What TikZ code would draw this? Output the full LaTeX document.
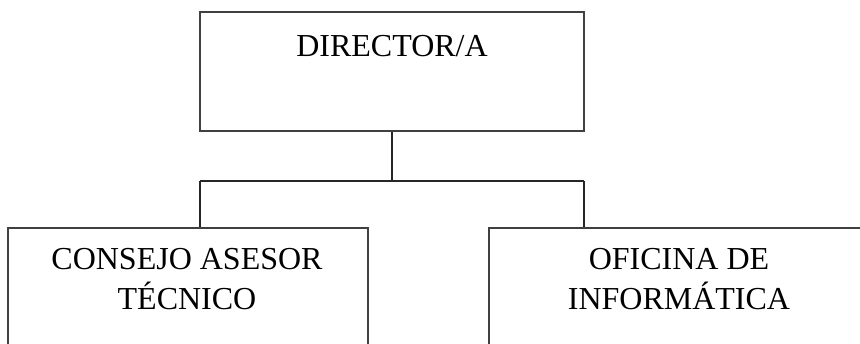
\documentclass[tikz,border=0pt]{standalone}
\usepackage{fontspec}
\setmainfont{Liberation Serif}
\usetikzlibrary{positioning}

\begin{document}
\begin{tikzpicture}[x=1pt, y=-1pt,
    box/.style={draw=black!75, line width=2pt, fill=white, inner sep=0pt},
    orgtext/.style={font=\fontsize{32}{40}\selectfont, align=center, inner sep=0pt, anchor=base},
    link/.style={draw=black!85, line width=1.5pt}]
  \useasboundingbox (0,0) rectangle (860,344);
  \clip (0,0) rectangle (860,344);
  % Boxes
  \node[box, minimum width=384pt, minimum height=119pt] (dir) at (392,71.5) {};
  \node[box, minimum width=360pt, minimum height=142pt] (cons) at (188,299) {};
  \node[box, minimum width=380pt, minimum height=142pt] (ofi) at (679,299) {};
  % Texts (base = last line)
  \node[orgtext] (dirtxt) at (392,57) {DIRECTOR/A};
  \node[orgtext] (constxt) at (187,310) {CONSEJO ASESOR\\TÉCNICO};
  \node[orgtext] (ofitxt) at (679,310) {OFICINA DE\\INFORMÁTICA};
  % Connectors
  \coordinate (mid) at (392,181);
  \coordinate (left) at (200,181);
  \coordinate (right) at (584,181);
  \path[link] (dir.south) -- (mid);
  \path[link] (left) -- (right);
  \path[link] (left) -- (left |- cons.north);
  \path[link] (right) -- (right |- ofi.north);
\end{tikzpicture}
\end{document}
